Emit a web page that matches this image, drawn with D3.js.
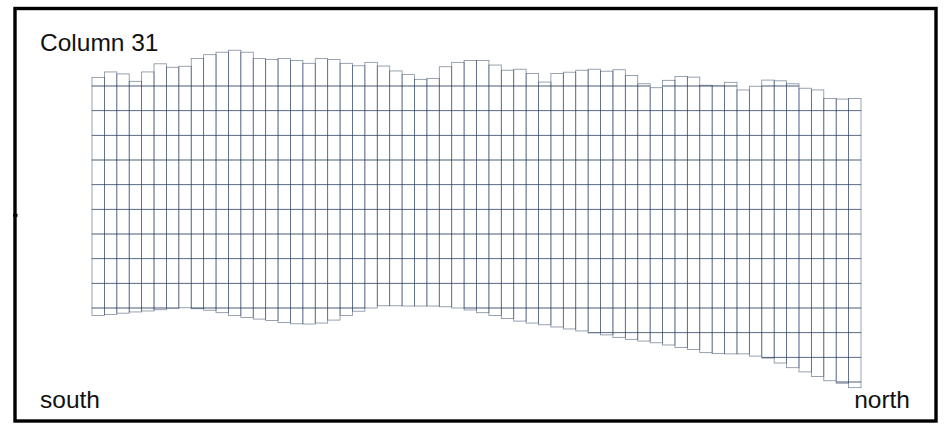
<!DOCTYPE html>
<html>
<head>
<meta charset="utf-8">
<script src="https://cdn.jsdelivr.net/npm/d3@7"></script>
<style>
  html, body { margin: 0; padding: 0; background: #fff; }
  svg { display: block; }
  text { font-family: "Liberation Sans", Arial, sans-serif; }
</style>
</head>
<body>
<svg id="chart" width="951" height="426"></svg>
<script>
// ---- data (elevations) ----
const columnIndex = d3.range(62);
const topElev = [
  103.5, 105.7, 104.9, 101.9, 105.7, 109.0, 107.6, 108.0, 111.2, 112.7,
  113.7, 114.5, 113.7, 111.1, 110.8, 111.2, 110.3, 109.2, 111.1, 110.7,
  109.2, 108.2, 109.6, 108.1, 106.1, 104.6, 102.7, 103.1, 107.8, 109.6,
  110.3, 110.3, 108.5, 106.4, 106.8, 105.1, 101.6, 105.1, 105.6, 106.4,
  106.8, 106.0, 106.6, 104.3, 100.9, 99.3, 102.3, 103.9, 103.6, 100.3,
  100.1, 101.5, 98.4, 99.9, 102.4, 102.1, 100.9, 99.1, 98.4, 94.9,
  94.7, 94.9
];
const botElev = [
  7.0, 7.4, 7.9, 8.4, 8.8, 9.3, 9.9, 10.1, 9.7, 9.1,
  8.1, 7.0, 6.2, 5.5, 4.9, 4.1, 3.6, 3.5, 3.9, 5.1,
  7.0, 8.7, 10.0, 10.9, 10.9, 10.8, 10.8, 10.8, 10.5, 10.0,
  9.2, 8.1, 7.0, 5.7, 4.7, 3.9, 3.2, 2.3, 1.5, 0.7,
  -0.1, -0.9, -1.9, -2.7, -3.4, -4.1, -5.0, -6.0, -6.8, -8.1,
  -8.5, -8.6, -8.6, -9.5, -10.3, -12.3, -14.2, -15.9, -17.8, -19.5,
  -20.5, -22.3
];
const layerBounds = [100, 90, 80, 70, 60, 50, 40, 30, 20, 10, 0, -10, -20];
const titleText = "Column 31";
const leftLabel = "south";
const rightLabel = "north";

// ---- drawing ----
const svg = d3.select("#chart");
const x = d3.scaleBand().domain(columnIndex).range([92, 861]).padding(0);
const y = d3.scaleLinear().domain([-10, 100]).range([357.33, 86]);

const stroke = "#2a3f5f";

// build cells per column: split between top and bottom at layer bounds
const cells = [];
columnIndex.forEach(i => {
  const t = topElev[i], b = botElev[i];
  const edges = [t].concat(layerBounds.filter(v => v < t && v > b)).concat([b]);
  for (let k = 0; k < edges.length - 1; k++) {
    cells.push({ col: i, hi: edges[k], lo: edges[k + 1] });
  }
});

svg.append("g")
  .selectAll("rect")
  .data(cells)
  .join("rect")
  .attr("x", d => x(d.col))
  .attr("width", x.bandwidth())
  .attr("y", d => y(d.hi))
  .attr("height", d => y(d.lo) - y(d.hi))
  .attr("fill", "none")
  .attr("stroke", stroke)
  .attr("stroke-opacity", 0.6)
  .attr("stroke-width", 0.8);

// frame
svg.append("rect")
  .attr("x", 15).attr("y", 8.5)
  .attr("width", 921).attr("height", 412.5)
  .attr("fill", "none")
  .attr("stroke", "#000")
  .attr("stroke-width", 3.4);
svg.append("rect")
  .attr("x", 13).attr("y", 213.8).attr("width", 4.5).attr("height", 3)
  .attr("fill", "#000");

// labels
svg.append("text").attr("x", 40).attr("y", 51)
  .attr("font-size", 24.5).attr("fill", "#111").text(titleText);
svg.append("text").attr("x", 40).attr("y", 407.5)
  .attr("font-size", 24.5).attr("fill", "#111").text(leftLabel);
svg.append("text").attr("x", 910).attr("y", 408)
  .attr("text-anchor", "end")
  .attr("font-size", 24.5).attr("fill", "#111").text(rightLabel);
</script>
</body>
</html>
